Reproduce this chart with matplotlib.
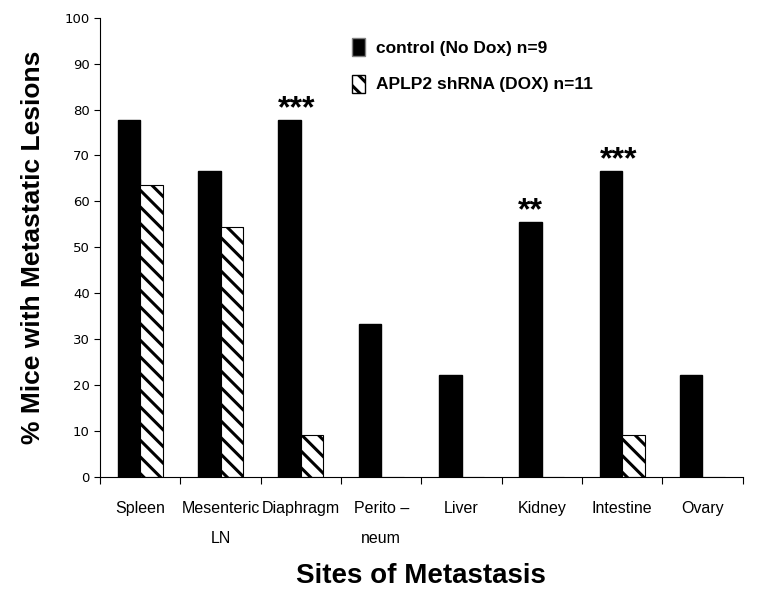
import numpy as np
import matplotlib
matplotlib.use('Agg')
import matplotlib.pyplot as plt
from matplotlib.patches import Patch

# dados
sites = ['Spleen', 'Mesenteric\nLN', 'Diaphragm', 'Perito \u2013\nneum', 'Liver',
         'Kidney', 'Intestine', 'Ovary']
control = [77.8, 66.7, 77.8, 33.3, 22.2, 55.6, 66.7, 22.2]
aplp2 = [63.6, 54.5, 9.1, 0, 0, 0, 9.1, 0]
stars = ['', '', '***', '', '', '**', '***', '']
labels = ['control (No Dox) n=9', 'APLP2 shRNA (DOX) n=11']

plt.rcParams['hatch.linewidth'] = 2.2
fig = plt.figure(figsize=(7.76, 6.07), dpi=100)
ax = fig.add_axes([0.129, 0.214, 0.828, 0.757])

x = np.arange(len(sites))
w = 0.28
ax.bar(x - w / 2, control, w, color='black', edgecolor='black')
ax.bar(x + w / 2, aplp2, w, color='white', edgecolor='black', hatch='\\\\', linewidth=0.8)

# asteriscos de significância
for xi, v, s in zip(x, control, stars):
    if s:
        xs = xi - w if len(s) == 3 else xi - w / 2
        ax.text(xs, v + 0.6, s, ha='left' if len(s) == 3 else 'center', va='baseline',
                fontsize=23, fontweight='bold', family='Liberation Sans')

ax.set_xlim(-0.5, len(sites) - 0.5)
ax.set_ylim(0, 100)
ax.set_yticks(range(0, 101, 10))
ax.tick_params(axis='y', labelsize=9.5, length=4, direction='out')

ax.set_xticks(np.arange(len(sites) + 1) - 0.5)
ax.set_xticklabels([])
ax.tick_params(axis='x', which='major', length=5, direction='out')
ax.set_xticks(x, minor=True)
ax.set_xticklabels(sites, minor=True, fontsize=11.5, family='Liberation Sans', linespacing=2.3)
ax.tick_params(axis='x', which='minor', length=0, pad=17)

for sp in ['top', 'right']:
    ax.spines[sp].set_visible(False)

ax.set_ylabel('% Mice with Metastatic Lesions', fontsize=19, fontweight='bold',
              family='Liberation Sans', labelpad=14)
ax.set_xlabel('Sites of Metastasis', fontsize=20, fontweight='bold',
              family='Liberation Sans', labelpad=12)

handles = [Patch(facecolor='black', edgecolor='gray'),
           Patch(facecolor='white', edgecolor='black', hatch='\\\\')]
ax.legend(handles, labels, loc='upper left', bbox_to_anchor=(0.367, 0.99), frameon=False,
          prop={'family': 'Liberation Sans', 'size': 12.5, 'weight': 'bold'},
          handlelength=0.8, handleheight=1.2, labelspacing=1.1, handletextpad=0.6)

plt.savefig('out.png', dpi=100)
